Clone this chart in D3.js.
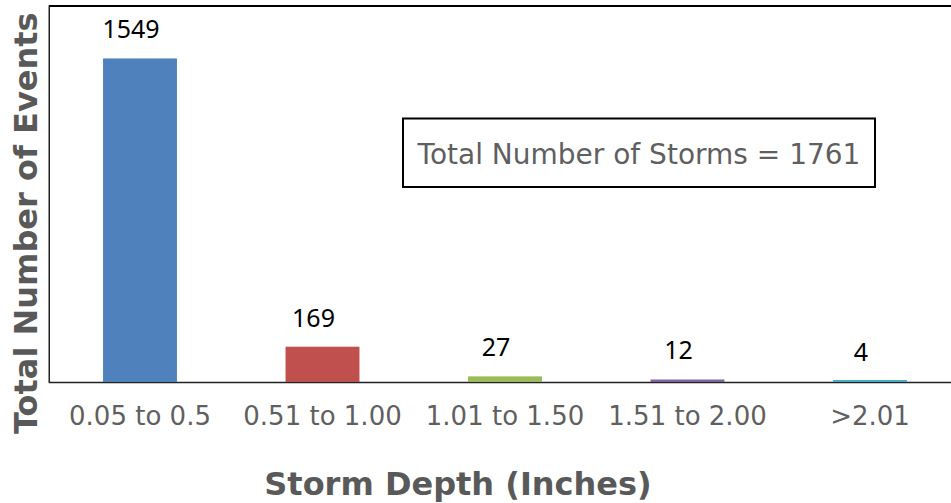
<!DOCTYPE html>
<html>
<head>
<meta charset="utf-8">
<script src="https://cdn.jsdelivr.net/npm/d3@7"></script>
<style>
  html, body { margin: 0; padding: 0; background: #fff; }
  svg { display: block; }
</style>
</head>
<body>
<svg id="chart" width="951" height="503"></svg>
<script>
const categories = ["0.05 to 0.5", "0.51 to 1.00", "1.01 to 1.50", "1.51 to 2.00", ">2.01"];
const counts = [1549, 169, 27, 12, 4];
const colors = ["#4F81BD", "#C0504D", "#9BBB59", "#8064A2", "#4BACC6"];
const yDomain = [0, 1800];
const totalLabel = "Total Number of Storms = 1761";
const xTitle = "Storm Depth (Inches)";
const yTitle = "Total Number of Events";

const svg = d3.select("#chart");
const plot = { left: 48.75, right: 961.25, top: 6, bottom: 382 };

const x = d3.scaleBand()
  .domain(categories)
  .range([plot.left, plot.right])
  .paddingInner(0.595)
  .paddingOuter(0.2975);

const y = d3.scaleLinear().domain(yDomain).range([plot.bottom, plot.top]);

const data = categories.map((c, i) => ({ c, v: counts[i], color: colors[i] }));

// frame: top line and left line
svg.append("line")
  .attr("x1", plot.left).attr("x2", 951)
  .attr("y1", plot.top).attr("y2", plot.top)
  .attr("stroke", "#000").attr("stroke-width", 2);

const yAxis = d3.axisLeft(y).tickValues([]).tickSizeOuter(0);
svg.append("g")
  .attr("transform", `translate(${plot.left},0)`)
  .call(yAxis)
  .call(g => g.select(".domain").attr("stroke", "#222").attr("stroke-width", 1.5));

// x axis
const xAxis = d3.axisBottom(x).tickSize(0).tickSizeOuter(0);
const xg = svg.append("g")
  .attr("transform", `translate(0,${plot.bottom})`)
  .call(xAxis);
xg.select(".domain")
  .attr("d", `M${plot.left},0.5H951`)
  .attr("stroke", "#222").attr("stroke-width", 1.5);
xg.selectAll(".tick text")
  .attr("y", 43)
  .attr("dy", 0)
  .attr("fill", "#5f5f5f")
  .style("font-family", "'DejaVu Sans', Verdana, sans-serif")
  .style("font-size", "26px");

// bars (drawn over the axis line like the original)
svg.append("g").selectAll("rect").data(data).join("rect")
  .attr("x", d => x(d.c))
  .attr("width", x.bandwidth())
  .attr("y", d => Math.min(y(d.v), plot.bottom - 2))
  .attr("height", d => Math.max(y(0) - y(d.v), 2))
  .attr("fill", d => d.color);

// value labels
svg.append("g").selectAll("text").data(data).join("text")
  .attr("x", d => x(d.c) + x.bandwidth() / 2 - 9)
  .attr("y", d => y(d.v) - 20)
  .attr("text-anchor", "middle")
  .attr("fill", "#000")
  .style("font-family", "'Noto Sans', 'Open Sans', sans-serif")
  .style("font-size", "25px")
  .text(d => d.v);

// annotation box
svg.append("rect")
  .attr("x", 403).attr("y", 118.5)
  .attr("width", 472).attr("height", 68.5)
  .attr("fill", "#fff")
  .attr("stroke", "#000").attr("stroke-width", 2);
svg.append("text")
  .attr("x", 639).attr("y", 164)
  .attr("text-anchor", "middle")
  .attr("fill", "#5f5f5f")
  .style("font-family", "'DejaVu Sans', Verdana, sans-serif")
  .style("font-size", "28px")
  .text(totalLabel);

// axis titles
svg.append("text")
  .attr("x", 458).attr("y", 495)
  .attr("text-anchor", "middle")
  .attr("fill", "#595959")
  .style("font-family", "'DejaVu Sans', Verdana, sans-serif")
  .style("font-weight", "bold")
  .style("font-size", "32px")
  .text(xTitle);

svg.append("text")
  .attr("transform", "translate(37,434) rotate(-90)")
  .attr("text-anchor", "start")
  .attr("fill", "#595959")
  .style("font-family", "'DejaVu Sans', Verdana, sans-serif")
  .style("font-weight", "bold")
  .style("font-size", "32px")
  .text(yTitle);
</script>
</body>
</html>
